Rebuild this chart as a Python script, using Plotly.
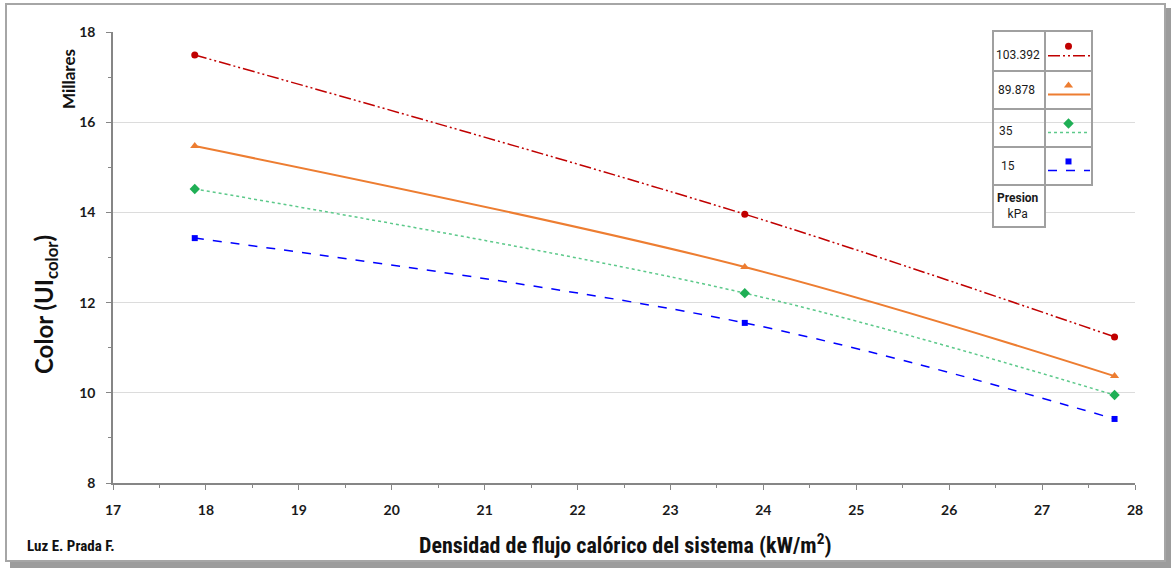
import plotly.graph_objects as go

# ---- data ----
flujo = [17.88, 23.80, 27.78]                 # kW/m2
color_103392 = [17.49, 13.96, 11.24]          # miles UI color
color_89878 = [15.47, 12.79, 10.37]
color_35 = [14.52, 12.21, 9.95]
color_15 = [13.43, 11.55, 9.42]
presiones = ["103.392", "89.878", "35", "15"]
x_ticks = list(range(17, 29))
y_ticks = [8, 10, 12, 14, 16, 18]

W, H = 1172, 569
L, R, T, B = 113, 1135, 32, 483   # plot area in pixels


def xp(px):
    return (px - L) / (R - L)


def yp(py):
    return (B - py) / (B - T)


series = [
    dict(y=color_103392, name=presiones[0], color="#C00000", lcolor="#C00000",
         dash="12px,3px,2px,3px,2px,3px", width=1.5, symbol="circle", size=7),
    dict(y=color_89878, name=presiones[1], color="#ED7D31", lcolor="#ED7D31",
         dash="solid", width=2, symbol="triangle-up", size=8),
    dict(y=color_35, name=presiones[2], color="#1FAF55", lcolor="#5CC98A",
         dash="dot", width=1.5, symbol="diamond", size=8),
    dict(y=color_15, name=presiones[3], color="#0000FF", lcolor="#0000FF",
         dash="dash", width=1.5, symbol="square", size=6),
]

fig = go.Figure()
for s in series:
    fig.add_trace(go.Scatter(
        x=flujo, y=s["y"], name=s["name"], mode="lines+markers",
        line=dict(color=s["lcolor"], dash=s["dash"], width=s["width"],
                  shape="spline", smoothing=1),
        marker=dict(color=s["color"], symbol=s["symbol"], size=s["size"]),
        showlegend=False,
    ))

# ---- custom table-style legend (pixel overlay axes) ----
row_top = [31, 71, 109, 147]
row_bot = [71, 109, 147, 185]
cx1, cx2, cx3 = 993, 1045, 1092
for i, s in enumerate(series):
    rt, rb = row_top[i], row_bot[i]
    ly = rt + (rb - rt) * 0.62
    fig.add_trace(go.Scatter(
        x=[cx2 + 3, cx3 - 2], y=[ly, ly], xaxis="x2", yaxis="y2", mode="lines",
        line=dict(color=s["lcolor"], dash=s["dash"], width=s["width"]),
        showlegend=False, hoverinfo="skip"))
    fig.add_trace(go.Scatter(
        x=[(cx2 + cx3) / 2], y=[rt + (rb - rt) * 0.38], xaxis="x2", yaxis="y2",
        mode="markers",
        marker=dict(color=s["color"], symbol=s["symbol"], size=s["size"]),
        showlegend=False, hoverinfo="skip"))

shapes = []
# frame shadow + frame
shapes.append(dict(type="rect", xref="paper", yref="paper", layer="below",
                   x0=xp(10), x1=xp(1171), y0=yp(8), y1=yp(568),
                   fillcolor="#9C9C9C", line=dict(width=0)))
shapes.append(dict(type="rect", xref="paper", yref="paper", layer="below",
                   x0=xp(6), x1=xp(1165), y0=yp(4), y1=yp(561),
                   fillcolor="white", line=dict(color="#A6A6A6", width=2)))
# legend table grid
grid_col = "#A0A0A0"
for i in range(4):
    rt, rb = row_top[i], row_bot[i]
    shapes.append(dict(type="rect", xref="paper", yref="paper",
                       x0=xp(cx1), x1=xp(cx2), y0=yp(rt), y1=yp(rb),
                       line=dict(color=grid_col, width=2)))
    shapes.append(dict(type="rect", xref="paper", yref="paper",
                       x0=xp(cx2), x1=xp(cx3), y0=yp(rt), y1=yp(rb),
                       line=dict(color=grid_col, width=2)))
shapes.append(dict(type="rect", xref="paper", yref="paper",
                   x0=xp(cx1), x1=xp(cx2), y0=yp(185), y1=yp(227),
                   fillcolor="white", line=dict(color=grid_col, width=2)))

narrow = "Roboto Condensed, Liberation Sans Narrow, Arial Narrow, Roboto, sans-serif"


def ann(text, x, y, size, family, xanchor="center", angle=0, color="#111111", weight="normal"):
    return dict(text=text, xref="paper", yref="paper", x=xp(x), y=yp(y),
                xanchor=xanchor, yanchor="middle", textangle=angle,
                showarrow=False, font=dict(family=family, size=size, color=color, weight=weight))


annotations = []
text_y = [55, 90, 131, 166]
text_x = [1018, 1016, 1006, 1008]
for i, p in enumerate(presiones):
    annotations.append(ann(p, text_x[i], text_y[i], 12, "Roboto, sans-serif", color="#1A1A1A"))
annotations.append(ann("<b>Presion</b><br>kPa", 1018, 206, 12, "Roboto, sans-serif", color="#1A1A1A"))
# axis titles and captions
annotations.append(ann("<b>Color (UI<sub>color</sub>)</b>", 45, 305, 24,
                       "Lato, Open Sans, sans-serif", angle=-90, weight="bold"))
annotations.append(ann("<b>Millares</b>", 68, 79, 17, "Lato, Open Sans, sans-serif",
                       angle=-90, weight="bold"))
annotations.append(ann("<b>Densidad de flujo calórico del sistema (kW/m<sup>2</sup>)</b>",
                       625, 544, 22, narrow, weight="bold"))
annotations.append(ann("<b>Luz E. Prada F.</b>", 25, 546, 15, narrow, xanchor="left", weight="bold"))

tick_font = dict(family="Lato, Open Sans, sans-serif", size=14, color="#1A1A1A", weight="bold")

fig.update_layout(
    width=W, height=H,
    margin=dict(l=L, r=W - R, t=T, b=H - B, pad=0),
    paper_bgcolor="white", plot_bgcolor="rgba(0,0,0,0)",
    showlegend=False,
    xaxis=dict(range=[17, 28], tickmode="array", tickvals=x_ticks, ticks="outside",
               ticklen=5, tickcolor="#868686", showline=True, linecolor="#868686",
               linewidth=1.5, showgrid=False, zeroline=False, tickfont=tick_font,
               minor=dict(dtick=0.5, ticks="outside", ticklen=3, tickcolor="#868686"),
               ticklabelstandoff=8),
    yaxis=dict(range=[8, 18], tickmode="array", tickvals=y_ticks, ticks="outside",
               ticklen=5, tickcolor="#868686", showline=True, linecolor="#868686",
               linewidth=1.5, showgrid=True, gridcolor="#DCDCDC", gridwidth=1,
               zeroline=False, tickfont=tick_font,
               minor=dict(dtick=1, ticks="outside", ticklen=3, tickcolor="#868686"),
               ticklabelstandoff=8),
    xaxis2=dict(range=[L, R], overlaying="x", visible=False, fixedrange=True),
    yaxis2=dict(range=[B, T], overlaying="y", visible=False, fixedrange=True),
    shapes=shapes,
    annotations=annotations,
)

fig.write_html("out.html")
